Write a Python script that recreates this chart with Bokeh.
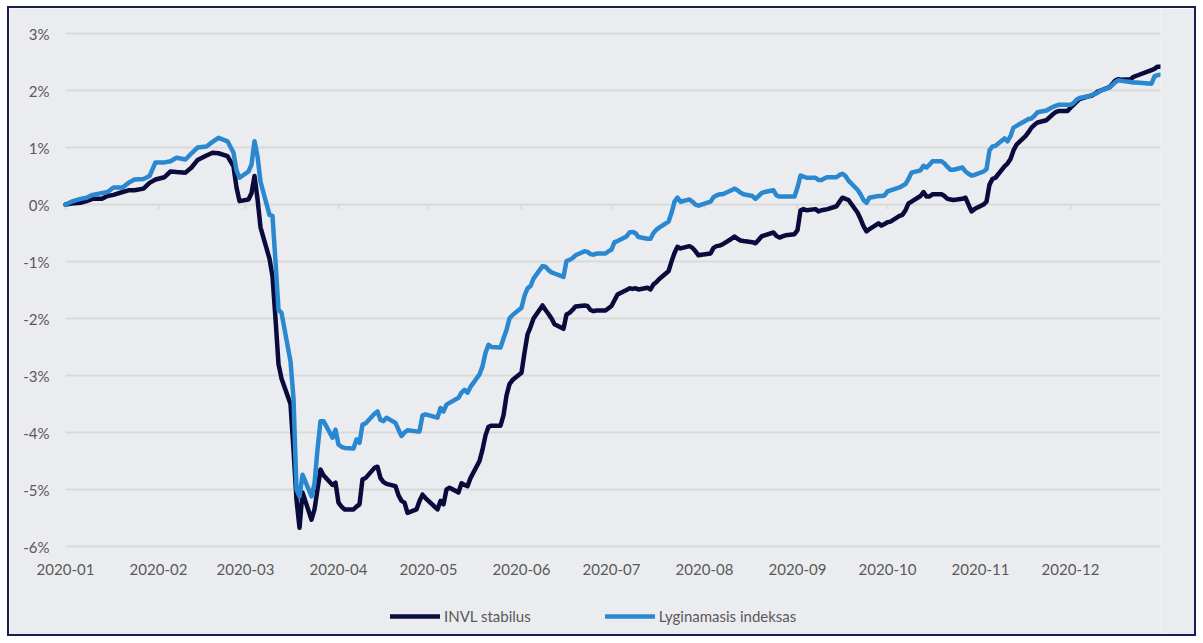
import pandas as pd
from bokeh.plotting import figure
from bokeh.models import Legend, LegendItem, ColumnDataSource
from bokeh.core.properties import value
from bokeh.embed import file_html
from bokeh.resources import INLINE

dates = [
    "2020-01-01", "2020-01-03", "2020-01-06", "2020-01-08", "2020-01-10", "2020-01-13", "2020-01-15",
    "2020-01-17", "2020-01-20", "2020-01-22", "2020-01-24", "2020-01-27", "2020-01-29", "2020-01-31",
    "2020-02-03", "2020-02-05", "2020-02-07", "2020-02-10", "2020-02-12", "2020-02-14", "2020-02-17",
    "2020-02-19", "2020-02-21", "2020-02-24", "2020-02-26", "2020-02-27", "2020-02-28",
    "2020-03-02", "2020-03-03", "2020-03-04", "2020-03-05", "2020-03-06", "2020-03-09", "2020-03-10",
    "2020-03-11", "2020-03-12", "2020-03-13", "2020-03-16", "2020-03-17", "2020-03-18", "2020-03-19",
    "2020-03-20", "2020-03-23", "2020-03-24", "2020-03-25", "2020-03-26", "2020-03-27", "2020-03-30",
    "2020-03-31", "2020-04-01", "2020-04-02", "2020-04-03", "2020-04-06", "2020-04-07", "2020-04-08",
    "2020-04-09", "2020-04-10", "2020-04-13", "2020-04-14", "2020-04-15", "2020-04-16", "2020-04-17",
    "2020-04-20", "2020-04-21", "2020-04-22", "2020-04-23", "2020-04-24", "2020-04-27", "2020-04-28",
    "2020-04-29", "2020-04-30", "2020-05-04", "2020-05-05", "2020-05-06", "2020-05-07", "2020-05-08",
    "2020-05-11", "2020-05-12", "2020-05-13", "2020-05-14", "2020-05-15", "2020-05-18", "2020-05-19",
    "2020-05-20", "2020-05-21", "2020-05-22", "2020-05-25", "2020-05-26", "2020-05-27", "2020-05-28",
    "2020-05-29", "2020-06-01", "2020-06-02", "2020-06-03", "2020-06-04", "2020-06-05", "2020-06-08",
    "2020-06-09", "2020-06-10", "2020-06-11", "2020-06-12", "2020-06-15", "2020-06-16", "2020-06-17",
    "2020-06-18", "2020-06-19", "2020-06-22", "2020-06-23", "2020-06-24", "2020-06-25", "2020-06-26",
    "2020-06-29", "2020-06-30", "2020-07-01", "2020-07-02", "2020-07-03", "2020-07-06", "2020-07-07",
    "2020-07-08", "2020-07-09", "2020-07-10", "2020-07-13", "2020-07-14", "2020-07-15", "2020-07-16",
    "2020-07-17", "2020-07-20", "2020-07-21", "2020-07-22", "2020-07-23", "2020-07-24", "2020-07-27",
    "2020-07-28", "2020-07-29", "2020-07-30", "2020-07-31", "2020-08-03", "2020-08-04", "2020-08-05",
    "2020-08-06", "2020-08-07", "2020-08-10", "2020-08-11", "2020-08-12", "2020-08-13", "2020-08-14",
    "2020-08-17", "2020-08-18", "2020-08-19", "2020-08-20", "2020-08-21", "2020-08-24", "2020-08-25",
    "2020-08-26", "2020-08-27", "2020-08-28", "2020-08-31", "2020-09-01", "2020-09-02", "2020-09-03",
    "2020-09-04", "2020-09-07", "2020-09-08", "2020-09-09", "2020-09-10", "2020-09-11", "2020-09-14",
    "2020-09-15", "2020-09-16", "2020-09-17", "2020-09-18", "2020-09-21", "2020-09-22", "2020-09-23",
    "2020-09-24", "2020-09-25", "2020-09-28", "2020-09-29", "2020-09-30", "2020-10-01", "2020-10-02",
    "2020-10-05", "2020-10-06", "2020-10-07", "2020-10-08", "2020-10-09", "2020-10-12", "2020-10-13",
    "2020-10-14", "2020-10-15", "2020-10-16", "2020-10-19", "2020-10-20", "2020-10-21", "2020-10-22",
    "2020-10-23", "2020-10-26", "2020-10-27", "2020-10-28", "2020-10-29", "2020-10-30", "2020-11-02",
    "2020-11-03", "2020-11-04", "2020-11-05", "2020-11-06", "2020-11-09", "2020-11-10", "2020-11-11",
    "2020-11-12", "2020-11-13", "2020-11-16", "2020-11-17", "2020-11-18", "2020-11-19", "2020-11-20",
    "2020-11-23", "2020-11-24", "2020-11-25", "2020-11-26", "2020-11-27", "2020-11-30", "2020-12-01",
    "2020-12-02", "2020-12-03", "2020-12-04", "2020-12-07", "2020-12-08", "2020-12-09", "2020-12-10",
    "2020-12-11", "2020-12-14", "2020-12-15", "2020-12-16", "2020-12-17", "2020-12-18", "2020-12-21",
    "2020-12-22", "2020-12-23", "2020-12-28", "2020-12-29", "2020-12-30", "2020-12-31",
]

invl_stabilus = [
    0.00, 0.02, 0.03, 0.06, 0.10, 0.10, 0.15,
    0.17, 0.22, 0.25, 0.25, 0.28, 0.38, 0.44,
    0.48, 0.58, 0.57, 0.56, 0.65, 0.78, 0.86,
    0.91, 0.90, 0.85, 0.67, 0.30, 0.06,
    0.09, 0.20, 0.50, 0.10, -0.40, -0.95, -1.26,
    -2.00, -2.80, -3.05, -3.50, -4.30, -5.18, -5.67,
    -5.05, -5.53, -5.35, -5.00, -4.65, -4.75, -4.92,
    -4.88, -5.23, -5.30, -5.35, -5.35, -5.30, -5.26,
    -4.82, -4.80, -4.62, -4.60, -4.80, -4.87, -4.90,
    -4.94, -5.10, -5.20, -5.23, -5.41, -5.35, -5.20,
    -5.09, -5.15, -5.35, -5.20, -5.26, -5.00, -4.97,
    -5.05, -4.89, -4.92, -4.94, -4.80, -4.50, -4.30,
    -4.05, -3.90, -3.88, -3.88, -3.70, -3.35, -3.15,
    -3.08, -2.95, -2.60, -2.28, -2.15, -2.00, -1.77,
    -1.85, -1.92, -2.00, -2.10, -2.18, -1.93, -1.90,
    -1.85, -1.79, -1.77, -1.78, -1.85, -1.87, -1.86,
    -1.86, -1.82, -1.78, -1.68, -1.58, -1.50, -1.47,
    -1.48, -1.47, -1.49, -1.46, -1.49, -1.40, -1.36,
    -1.30, -1.17, -1.00, -0.85, -0.74, -0.77, -0.73,
    -0.76, -0.82, -0.89, -0.88, -0.86, -0.76, -0.73,
    -0.72, -0.70, -0.60, -0.56, -0.60, -0.63, -0.64,
    -0.66, -0.68, -0.62, -0.56, -0.54, -0.49, -0.55,
    -0.58, -0.56, -0.54, -0.52, -0.45, -0.10, -0.08,
    -0.10, -0.08, -0.12, -0.10, -0.09, -0.08, -0.03,
    0.05, 0.12, 0.10, 0.08, -0.14, -0.25, -0.38,
    -0.47, -0.43, -0.33, -0.37, -0.34, -0.31, -0.30,
    -0.20, -0.18, -0.10, 0.02, 0.05, 0.15, 0.22,
    0.14, 0.14, 0.18, 0.18, 0.15, 0.10, 0.09,
    0.08, 0.10, 0.12, 0.00, -0.12, -0.08, 0.00,
    0.05, 0.35, 0.45, 0.47, 0.67, 0.72, 0.80,
    0.95, 1.05, 1.20, 1.27, 1.35, 1.40, 1.44,
    1.48, 1.53, 1.58, 1.62, 1.64, 1.64, 1.70,
    1.75, 1.80, 1.85, 1.90, 1.91, 1.94, 1.98,
    2.00, 2.06, 2.12, 2.18, 2.20, 2.19, 2.20,
    2.24, 2.26, 2.36, 2.38, 2.42, 2.42,
]

lyginamasis_indeksas = [
    0.00, 0.05, 0.10, 0.12, 0.17, 0.20, 0.22,
    0.30, 0.30, 0.38, 0.44, 0.45, 0.50, 0.74,
    0.74, 0.76, 0.82, 0.79, 0.90, 1.00, 1.02,
    1.10, 1.17, 1.11, 0.91, 0.60, 0.47,
    0.58, 0.70, 1.11, 0.85, 0.40, -0.18, -0.20,
    -1.00, -1.85, -1.90, -2.75, -3.40, -5.00, -5.12,
    -4.74, -5.12, -4.90, -4.30, -3.80, -3.80, -4.09,
    -3.95, -4.21, -4.25, -4.27, -4.28, -4.12, -4.18,
    -3.86, -3.84, -3.67, -3.63, -3.78, -3.80, -3.74,
    -3.83, -3.95, -4.06, -4.00, -3.96, -3.98, -3.98,
    -3.70, -3.68, -3.74, -3.57, -3.63, -3.51, -3.48,
    -3.39, -3.30, -3.25, -3.30, -3.20, -2.98, -2.84,
    -2.60, -2.46, -2.50, -2.51, -2.35, -2.20, -2.00,
    -1.94, -1.81, -1.60, -1.47, -1.43, -1.30, -1.08,
    -1.09, -1.15, -1.19, -1.21, -1.27, -0.99, -0.97,
    -0.94, -0.89, -0.82, -0.83, -0.87, -0.88, -0.86,
    -0.86, -0.82, -0.79, -0.66, -0.64, -0.56, -0.49,
    -0.48, -0.50, -0.57, -0.60, -0.60, -0.50, -0.44,
    -0.40, -0.30, -0.15, 0.05, 0.12, 0.05, 0.09,
    0.05, 0.00, -0.02, 0.00, 0.05, 0.13, 0.16,
    0.18, 0.18, 0.25, 0.28, 0.25, 0.21, 0.18,
    0.15, 0.10, 0.15, 0.20, 0.22, 0.25, 0.16,
    0.14, 0.14, 0.14, 0.14, 0.30, 0.51, 0.49,
    0.47, 0.47, 0.43, 0.43, 0.46, 0.48, 0.48,
    0.52, 0.54, 0.50, 0.42, 0.26, 0.18, 0.08,
    0.03, 0.12, 0.15, 0.15, 0.16, 0.23, 0.25,
    0.30, 0.33, 0.36, 0.45, 0.56, 0.60, 0.68,
    0.65, 0.70, 0.76, 0.76, 0.72, 0.66, 0.61,
    0.61, 0.65, 0.58, 0.54, 0.51, 0.52, 0.58,
    0.62, 0.95, 1.02, 1.03, 1.16, 1.11, 1.20,
    1.35, 1.38, 1.47, 1.50, 1.51, 1.56, 1.62,
    1.65, 1.68, 1.71, 1.73, 1.75, 1.75, 1.75,
    1.78, 1.84, 1.87, 1.90, 1.92, 1.94, 1.96,
    2.00, 2.05, 2.10, 2.15, 2.18, 2.17, 2.15,
    2.14, 2.14, 2.12, 2.25, 2.27, 2.28,
]

series_names = ["INVL stabilus", "Lyginamasis indeksas"]
series_colors = ["#0a0b3d", "#2a88d0"]
y_ticks = [-6, -5, -4, -3, -2, -1, 0, 1, 2, 3]
y_labels = ["-6%", "-5%", "-4%", "-3%", "-2%", "-1%", "0%", "1%", "2%", "3%"]
month_ticks = ["2020-01-01", "2020-02-01", "2020-03-01", "2020-04-01", "2020-05-01", "2020-06-01",
               "2020-07-01", "2020-08-01", "2020-09-01", "2020-10-01", "2020-11-01", "2020-12-01"]
month_labels = ["2020-01", "2020-02", "2020-03", "2020-04", "2020-05", "2020-06",
                "2020-07", "2020-08", "2020-09", "2020-10", "2020-11", "2020-12"]
x_start, x_end = "2020-01-01", "2020-12-31"

src = ColumnDataSource(dict(date=pd.to_datetime(dates), a=invl_stabilus, b=lyginamasis_indeksas))
mt = pd.to_datetime(month_ticks)
xs, xe = pd.Timestamp(x_start), pd.Timestamp(x_end)

BG = "#ebecef"
TXT = "#595959"
GRID = "#d8d9db"
FONT = "Lato"

# The plotting frame covers the whole card so that every label and the legend are inside it;
# the ranges leave empty room left of 2020-01-01 and below -6% for the labels.
p = figure(
    width=1189, height=630,
    x_axis_type="datetime", x_axis_location=None, y_axis_location=None,
    x_range=(pd.Timestamp("2019-12-13 08:00"), xe),
    y_range=(-7.614, 3.44),
    output_backend="svg", toolbar_location=None,
    min_border_left=0, min_border_right=38, min_border_top=0, min_border_bottom=0,
    background_fill_color=BG, border_fill_color=BG,
)
p.styles = {"border": "2px solid #1c1f4d", "margin-left": "7px", "margin-top": "6px"}
p.outline_line_color = None
p.grid.visible = False

# horizontal grid lines
n = len(y_ticks)
p.segment(x0=[xs] * n, y0=y_ticks, x1=[xe] * n, y1=y_ticks, line_color=GRID, line_width=2)
# small tick marks on the zero line
p.segment(x0=mt, y0=[0] * len(mt), x1=mt, y1=[-0.08] * len(mt), line_color=GRID, line_width=2)

# y labels
p.text(x=[xs] * n, y=y_ticks, text=y_labels, x_offset=-16, text_align="right", text_baseline="middle",
       text_font=value(FONT), text_font_size="15px", text_color=TXT)
# month labels under the -6% line
p.text(x=mt, y=[-6.4] * len(mt), text=month_labels, text_align="center", text_baseline="middle",
       text_font=value(FONT), text_font_size="15px", text_color=TXT)

r_a = p.line("date", "a", source=src, line_color=series_colors[0], line_width=4.5,
             line_join="round", line_cap="round")
r_b = p.line("date", "b", source=src, line_color=series_colors[1], line_width=4.5,
             line_join="round", line_cap="round")

legend = Legend(items=[LegendItem(label=series_names[0], renderers=[r_a]),
                       LegendItem(label=series_names[1], renderers=[r_b])],
                orientation="horizontal", location=(381, 12))
legend.background_fill_alpha = 0
legend.border_line_color = None
legend.label_text_font = FONT
legend.label_text_font_size = "15px"
legend.label_text_color = TXT
legend.glyph_width = 50
legend.glyph_height = 20
legend.label_standoff = 4
legend.spacing = 74
legend.margin = 0
legend.padding = 0
p.add_layout(legend, "center")

open("out.html", "w").write(file_html(p, INLINE))
